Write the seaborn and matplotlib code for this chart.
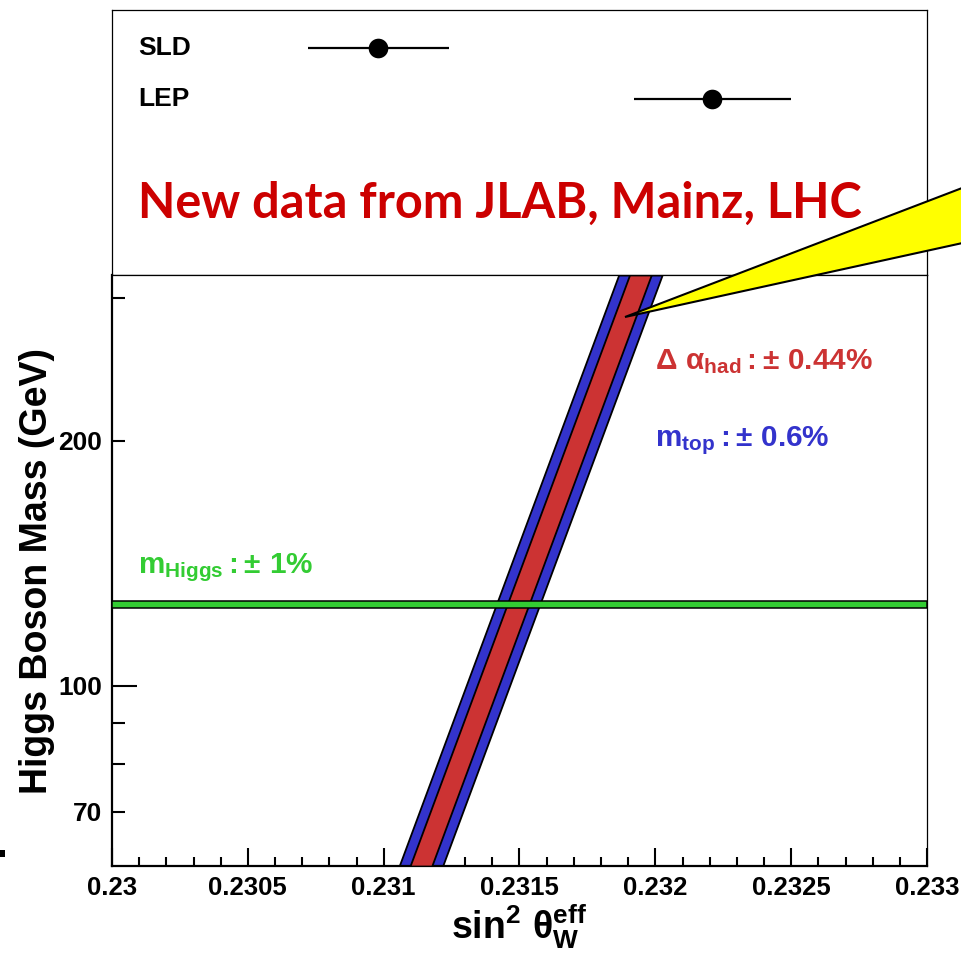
import numpy as np
import pandas as pd
import matplotlib
matplotlib.use('Agg')
import matplotlib.pyplot as plt
import seaborn as sns
from matplotlib.patches import Polygon, Rectangle
from matplotlib.ticker import FixedLocator, FixedFormatter, MultipleLocator
from matplotlib.transforms import blended_transform_factory

# ---------------- data ----------------
experiments = ['SLD', 'LEP']
sin2_exp = [0.23098, 0.23221]
sin2_err = [0.00026, 0.00029]

band_mass = [60, 320]                 # GeV, ends of the SM prediction band
band_center = [0.231137, 0.231945]    # sin2theta at those masses
had_halfwidth = [0.00004, 0.00004]    # Delta alpha_had +-0.44%
top_halfwidth = [0.00008, 0.00008]    # m_top +-0.6%

higgs_mass = 125.8
higgs_rel = 0.01

x_ticks = [0.2300, 0.2305, 0.2310, 0.2315, 0.2320, 0.2325, 0.2330]
x_tick_labels = ['0.23', '0.2305', '0.231', '0.2315', '0.232', '0.2325', '0.233']
y_major = [100]
y_major_labels = ['100']
y_minor = [70, 80, 90, 200, 300]
y_minor_labels = ['70', '', '', '200', '']

# ---------------- style ----------------
sns.set_theme(style='white')
plt.rcParams['font.family'] = ['Liberation Sans', 'DejaVu Sans']
plt.rcParams['font.weight'] = 'bold'
plt.rcParams['mathtext.fontset'] = 'custom'
plt.rcParams['mathtext.rm'] = 'Liberation Sans'
plt.rcParams['mathtext.it'] = 'Liberation Sans:italic'
plt.rcParams['mathtext.bf'] = 'Liberation Sans:bold'

RED = '#cc3333'
BLUE = '#3333cc'
GREEN = '#33cc33'

W, H = 961, 957
fig = plt.figure(figsize=(W / 100, H / 100), dpi=100)


def fx(px):
    return px / W


def fy(py):
    return 1 - py / H


L, R, T0, MID, B = 112, 927, 10, 275, 866
ax_top = fig.add_axes([fx(L), fy(MID), fx(R) - fx(L), fy(T0) - fy(MID)])
ax = fig.add_axes([fx(L), fy(B), fx(R) - fx(L), fy(MID) - fy(B)])

# ---------------- upper panel: measurements ----------------
df_exp = pd.DataFrame({'experiment': experiments, 'sin2': sin2_exp,
                       'err': sin2_err, 'row': np.arange(len(experiments))})
ax_top.errorbar(df_exp['sin2'], df_exp['row'], xerr=df_exp['err'], fmt='none',
                ecolor='black', elinewidth=1.6, capsize=0, zorder=2)
sns.scatterplot(data=df_exp, x='sin2', y='row', ax=ax_top, color='black',
                s=200, edgecolor='black', linewidth=0, zorder=3, legend=False)
ax_top.set_xlim(0.2300, 0.2330)
ax_top.set_ylim(4.451, -0.745)
ax_top.set_xticks([])
ax_top.set_yticks([])
ax_top.set_xlabel('')
ax_top.set_ylabel('')
for s in ax_top.spines.values():
    s.set_color('black')
    s.set_linewidth(0.9)

tr = blended_transform_factory(ax_top.transAxes, ax_top.transData)
for i, name in enumerate(experiments):
    ax_top.text(0.0319, i, name, transform=tr, fontsize=19, fontweight='bold',
                va='center', ha='left', color='black')

ax_top.text(0.0319, 0.215, 'New data from JLAB, Mainz, LHC', transform=ax_top.transAxes,
            fontsize=35, fontweight='bold', family=['Lato', 'DejaVu Sans'],
            color='#cc0000', va='baseline', ha='left')

# ---------------- lower panel: SM prediction ----------------
bm = np.array(band_mass, dtype=float)
bc = np.array(band_center)
ax.fill_betweenx(bm, bc - np.array(top_halfwidth), bc + np.array(top_halfwidth),
                 facecolor=BLUE, edgecolor='black', linewidth=1.3, zorder=2)
ax.fill_betweenx(bm, bc - np.array(had_halfwidth), bc + np.array(had_halfwidth),
                 facecolor=RED, edgecolor='black', linewidth=1.3, zorder=3)
ax.axhspan(higgs_mass * (1 - higgs_rel), higgs_mass * (1 + higgs_rel),
           facecolor=GREEN, edgecolor='black', linewidth=1.1, zorder=4)

ax.set_yscale('log')
ax.set_xlim(0.2300, 0.2330)
ax.set_ylim(60, 320)
ax.xaxis.set_major_locator(FixedLocator(x_ticks))
ax.xaxis.set_major_formatter(FixedFormatter(x_tick_labels))
ax.xaxis.set_minor_locator(MultipleLocator(0.0001))
ax.yaxis.set_major_locator(FixedLocator(y_major))
ax.yaxis.set_major_formatter(FixedFormatter(y_major_labels))
ax.yaxis.set_minor_locator(FixedLocator(y_minor))
ax.yaxis.set_minor_formatter(FixedFormatter(y_minor_labels))

ax.tick_params(axis='x', which='major', direction='in', length=13, width=1.5,
               labelsize=18.5, pad=7, colors='black', bottom=True, top=False)
ax.tick_params(axis='x', which='minor', direction='in', length=6.5, width=1.5,
               bottom=True, top=False, colors='black')
ax.tick_params(axis='y', which='major', direction='in', length=18, width=1.5,
               labelsize=19, pad=7, colors='black', left=True, right=False)
ax.tick_params(axis='y', which='minor', direction='in', length=9.4, width=1.5,
               labelsize=19, pad=7, colors='black', left=True, right=False)
for lab in ax.get_xticklabels() + ax.get_yticklabels() + ax.get_yticklabels(minor=True):
    lab.set_fontweight('bold')

for k, s in ax.spines.items():
    s.set_color('black')
    s.set_linewidth(1.6 if k in ('left', 'bottom') else 0.9)

ax.set_ylabel('Higgs Boson Mass (GeV)', fontsize=27, fontweight='bold', color='black')
ax.yaxis.set_label_coords(-0.070, 0.5)
ax.set_xlabel(r'$\mathbf{sin}^{\mathbf{2}}\ \mathrm{\theta}^{\mathbf{eff}}_{\mathbf{W}}$',
              fontsize=27, color='black')
ax.xaxis.set_label_coords(0.5, -0.062)

ax.text(0.666, 0.841, r'$\mathrm{\Delta}\ \mathrm{\alpha}_{\mathbf{had}}{\mathbf{:}}{\pm}\ \mathbf{0.44\%}$',
        transform=ax.transAxes, color=RED, fontsize=21.4, va='baseline', ha='left')
ax.text(0.666, 0.7095, r'$\mathbf{m}_{\mathbf{top}}{\mathbf{:}}{\pm}\ \mathbf{0.6\%}$',
        transform=ax.transAxes, color=BLUE, fontsize=21.4, va='baseline', ha='left')
ax.text(0.0319, 0.4958, r'$\mathbf{m}_{\mathbf{Higgs}}{\mathbf{:}}{\pm}\ \mathbf{1\%}$',
        transform=ax.transAxes, color=GREEN, fontsize=21.4, va='baseline', ha='left')

# ---------------- callout wedge ----------------
wedge_px = [(625, 317), (1000, 173.5), (1000, 234.8)]
wedge = Polygon([(fx(x), fy(y)) for x, y in wedge_px], closed=True,
                transform=fig.transFigure, facecolor='#ffff00', edgecolor='black',
                linewidth=1.5, zorder=10)
fig.patches.append(wedge)
fig.patches.append(Rectangle((0, fy(857)), fx(5), 7 / H, transform=fig.transFigure,
                             facecolor='black', edgecolor='none'))

fig.savefig('out.png', dpi=100)
